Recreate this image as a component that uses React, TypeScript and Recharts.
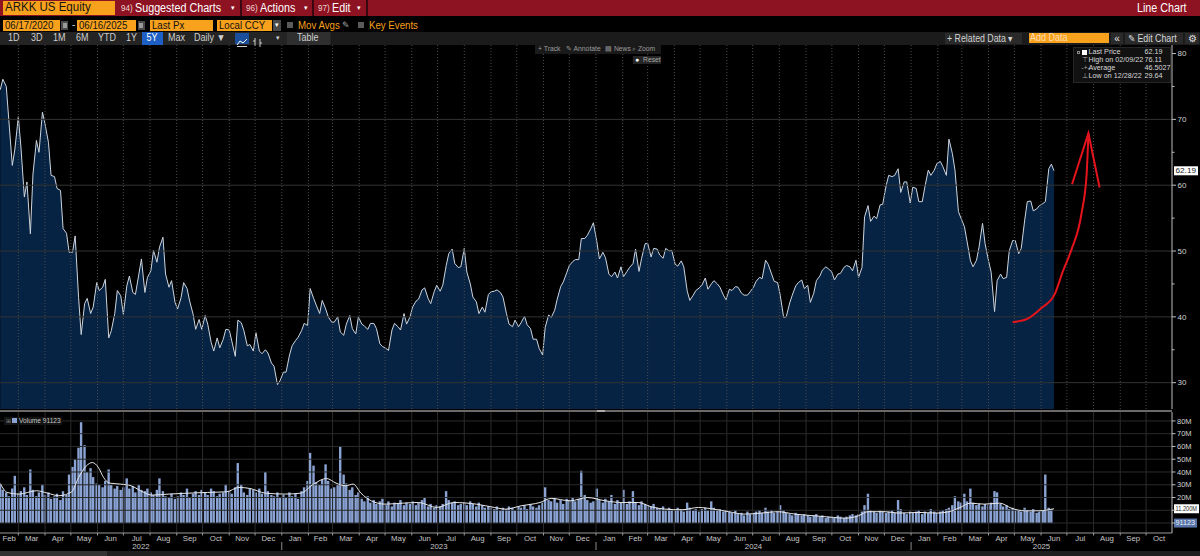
import React from 'react';
import { ComposedChart, Area, Line, Bar, XAxis, YAxis, ReferenceLine } from 'recharts';

const FONT = '"Liberation Sans", Arial, sans-serif';
const ORANGE = '#f8a11c';

// ---------- time helpers ----------
const DAY0 = Date.UTC(2022, 0, 1);
const MS_DAY = 86400000;
function dayNum(iso: string): number {
  const [y, m, d] = iso.split('-').map(Number);
  return Math.round((Date.UTC(y, m - 1, d) - DAY0) / MS_DAY);
}
const X_MIN = 37.7;
const X_MAX = 1399.1;

// ---------- data ----------
// closes sampled every Tuesday and Friday, starting Tue 2022-02-08
const SAMPLE_START = '2022-02-08';
const LAST_DATE = '2025-06-16';
const LAST_PRICE = 62.19;
const LAST_VOLUME = 0.091123; // millions

const price2022 = [
  74.5, 76.1, 75.0, 69.8, 63.0, 65.5,
  70.4, 65.8, 58.2, 60.5, 52.6, 61.7, 66.8, 65.0, 71.1,
  69.3, 66.5, 61.5, 61.3, 59.5, 59.2, 53.4, 52.7, 49.8,
  49.8, 52.3, 42.9, 37.3, 42.0, 42.8, 40.5, 41.5, 45.2,
  44.0, 44.5, 45.7, 36.8, 37.9, 40.5, 44.0, 43.2,
  40.4, 44.7, 46.2, 43.7, 43.4, 46.5, 48.8, 43.7, 46.0,
  47.0, 50.1, 48.3, 50.6, 52.1, 46.5, 44.5, 45.5, 42.2,
  41.2, 42.9, 45.2, 44.3, 42.4, 40.4, 38.1, 39.6, 38.1,
  40.2, 38.9, 36.1, 34.8, 36.8, 35.3, 36.6, 38.1,
  38.0, 36.3, 34.0, 39.5, 39.1, 37.9, 35.6, 35.8, 34.8,
  37.6, 34.8, 34.4, 35.0, 34.5, 33.0, 32.5, 29.7, 30.3,
];
const price2023 = [
  31.6, 31.6, 34.2, 35.6, 36.4, 36.9, 37.9, 39.0, 38.7,
  44.3, 42.8, 41.8, 40.5, 42.5, 41.2, 40.0, 39.2,
  39.2, 40.0, 37.7, 37.2, 38.9, 40.2, 38.2, 37.4, 40.0,
  38.9, 38.6, 38.1, 39.0, 39.0, 38.2, 35.9, 35.5,
  35.2, 34.9, 38.0, 39.0, 38.5, 38.0, 40.5, 38.9, 40.0,
  41.5, 42.4, 42.7, 44.1, 44.4, 42.8, 42.0, 43.8, 44.8,
  43.9, 44.8, 47.8, 49.6, 50.3, 48.1, 47.5, 47.6,
  50.4, 46.8, 45.0, 43.0, 42.3, 40.5, 41.5, 40.7, 43.4,
  43.8, 43.9, 44.1, 43.7, 43.0, 40.5, 38.9, 38.5, 39.5,
  38.5, 39.1, 40.1, 38.8, 38.2, 36.6, 36.6, 35.2, 34.2,
  38.4, 40.3, 39.9, 41.0, 42.7, 44.6, 45.3, 46.7,
  47.8, 48.4, 48.7, 48.7, 51.9, 51.9, 52.4, 53.4, 54.3,
];
const price2024 = [
  51.4, 48.8, 49.8, 49.0, 46.5, 46.1, 46.8, 45.9, 47.6,
  46.1, 46.9, 47.5, 48.1, 50.3, 46.9, 48.9, 51.1,
  51.2, 49.1, 50.4, 50.3, 49.4, 48.9, 50.4, 50.0, 50.1,
  48.0, 47.7, 48.5, 47.6, 43.9, 42.5, 43.3, 44.0, 44.4,
  44.8, 45.9, 44.2, 45.0, 45.5, 45.0, 44.5, 43.3, 42.6,
  44.2, 44.0, 44.6, 44.5, 43.6, 43.3, 43.3, 43.8,
  44.5, 45.4, 46.0, 45.8, 48.6, 48.0, 46.5, 45.4, 45.2,
  43.3, 39.9, 40.0, 42.1, 43.3, 44.7, 45.2, 45.6, 44.3,
  44.8, 42.2, 43.6, 45.5, 46.2, 47.1, 47.6, 47.3,
  46.8, 45.6, 46.5, 46.6, 47.5, 47.8, 47.6, 47.0, 48.6,
  46.0, 47.5, 55.2, 56.9, 54.5, 55.3, 54.9, 57.0, 57.1,
  59.9, 61.5, 61.3, 61.5, 62.5, 58.9, 60.5, 60.5, 57.3,
];
const price2025 = [
  59.7, 59.5, 57.5, 57.5, 59.7, 62.3, 61.5, 62.3, 63.3,
  63.6, 62.8, 61.5, 67.0, 64.8, 62.3, 56.0, 55.0,
  53.7, 51.5, 48.5, 47.6, 48.6, 50.6, 54.2, 51.1,
  48.5, 46.8, 40.8, 45.5, 46.5, 45.8, 46.0, 50.0, 51.6,
  51.6, 49.6, 50.4, 54.7, 57.5, 57.6, 56.1, 56.4, 56.9,
  57.2, 57.5, 62.5, 63.2,
];

// volume in millions, same sampling dates
const volume2022 = [
  30, 26, 24, 21, 27, 37,
  23, 25, 28, 22, 42, 26, 21, 24, 30,
  22, 24, 19, 21, 23, 18, 25, 22, 38,
  44, 50, 59, 79, 61, 40, 43, 36, 31,
  30, 28, 33, 42, 30, 27, 29, 26,
  28, 35, 27, 29, 24, 30, 26, 25, 27,
  24, 22, 26, 35, 25, 21, 20, 23, 19,
  21, 24, 22, 27, 20, 23, 25, 22, 26,
  24, 22, 27, 25, 21, 23, 24, 30,
  25, 23, 28, 47, 30, 24, 22, 27, 26,
  24, 27, 23, 40, 25, 22, 21, 24, 20,
];
const volume2023 = [
  22, 20, 24, 21, 23, 19, 25, 28, 33,
  55, 45, 32, 30, 34, 46, 33, 27,
  28, 30, 60, 38, 31, 26, 28, 22, 24,
  19, 17, 21, 16, 18, 15, 17, 19,
  14, 17, 13, 16, 15, 18, 14, 16, 15,
  17, 14, 16, 18, 20, 13, 15, 12, 14,
  13, 15, 25, 18, 16, 17, 14, 15,
  16, 14, 17, 15, 13, 16, 14, 12, 13,
  12, 11, 13, 10, 12, 11, 13, 12, 10,
  13, 12, 14, 11, 15, 13, 12, 14, 16,
  28, 18, 17, 20, 16, 18, 15, 19,
  18, 20, 17, 19, 41, 22, 18, 16, 17,
];
const volume2024 = [
  27, 18, 16, 19, 17, 22, 15, 18, 16,
  26, 15, 17, 25, 16, 14, 17, 15,
  14, 13, 15, 12, 11, 13, 10, 12, 11,
  10, 12, 11, 9, 16, 12, 10, 11, 9,
  11, 12, 10, 17, 12, 10, 11, 9, 10,
  9, 8, 10, 7, 8, 6, 9, 7,
  8, 9, 10, 8, 12, 9, 10, 8, 9,
  14, 10, 8, 7, 6, 8, 7, 6, 7,
  6, 5, 6, 7, 5, 6, 4, 5,
  5, 4, 6, 5, 4, 5, 6, 7, 6,
  7, 9, 14, 23, 10, 9, 8, 10, 9,
  8, 9, 10, 8, 18, 11, 8, 7, 9,
];
const volume2025 = [
  8, 9, 10, 7, 9, 8, 11, 9, 8,
  9, 10, 11, 12, 14, 21, 17, 16,
  23, 17, 27, 16, 14, 15, 13, 15,
  14, 16, 25, 24, 15, 13, 14, 11, 12,
  11, 10, 9, 12, 10, 9, 11, 8, 9,
  10, 38, 12, 11,
];

// moving average of volume (white line), millions
const volMADates = [
  '2022-02-08', '2022-02-16', '2022-03-02', '2022-03-22', '2022-04-04', '2022-04-17', '2022-05-02',
  '2022-05-10', '2022-05-19', '2022-05-26', '2022-06-02', '2022-06-08', '2022-06-15', '2022-06-28',
  '2022-07-10', '2022-07-21', '2022-08-03', '2022-08-23', '2022-09-14', '2022-10-07', '2022-10-29',
  '2022-11-12', '2022-11-25', '2022-12-13', '2023-01-05', '2023-01-23', '2023-02-07', '2023-02-22',
  '2023-03-05', '2023-03-16', '2023-03-25', '2023-04-03', '2023-04-15', '2023-05-01', '2023-05-22',
  '2023-06-09', '2023-06-30', '2023-07-20', '2023-08-15', '2023-09-05', '2023-09-18', '2023-10-06',
  '2023-10-28', '2023-11-10', '2023-12-02', '2023-12-22', '2024-01-12', '2024-01-31', '2024-02-19',
  '2024-03-05', '2024-03-21', '2024-04-10', '2024-04-29', '2024-05-17', '2024-06-03', '2024-06-21',
  '2024-07-11', '2024-07-30', '2024-08-19', '2024-09-10', '2024-10-03', '2024-10-17', '2024-11-01',
  '2024-11-12', '2024-12-02', '2024-12-17', '2025-01-10', '2025-01-31', '2025-02-14', '2025-02-27',
  '2025-03-11', '2025-03-27', '2025-04-14', '2025-04-28', '2025-05-13', '2025-05-29', '2025-06-16',
];
const volMAValues = [
  31, 24, 22.7, 25.3, 23.4, 21.4, 24.5,
  35.7, 44.8, 47.4, 43.5, 35.7, 31.3, 30.5,
  29.2, 25.3, 21.9, 22.7, 23.4, 24.0, 24.5,
  27.9, 27.1, 23.4, 22.7, 23.4, 30.5, 34.9,
  31.3, 29.2, 30.5, 23.4, 17.4, 14.8, 15.6,
  16.1, 12.2, 16.1, 14.8, 12.2, 10.9, 13.5,
  16.1, 19.3, 17.4, 20.0, 17.4, 16.1, 16.1,
  12.8, 10.9, 10.4, 12.2, 10.9, 8.9, 7.0,
  7.8, 8.9, 7.0, 5.7, 4.4, 3.8, 5.7,
  8.9, 8.9, 7.8, 8.3, 7.8, 8.9, 12.2,
  15.6, 14.8, 15.6, 11.5, 9.6, 9.6, 11.2,
];

// hand-drawn red arrow (annotation)
const arrowCurveDates = ['2025-04-29', '2025-05-16', '2025-06-01', '2025-06-17', '2025-06-26', '2025-07-06', '2025-07-18', '2025-07-24', '2025-07-25', '2025-07-26'];
const arrowCurveValues = [39.2, 39.7, 41.3, 43.5, 46.8, 50.1, 55.7, 61.8, 64.5, 67.9];
const arrowHeadDates = ['2025-07-07', '2025-07-26', '2025-08-08'];
const arrowHeadValues = [60.15, 67.9, 59.65];

// axis ticks / labels
const priceTicks = [30, 35, 40, 45, 50, 55, 60, 65, 70, 75, 80];
const priceGrid = [30, 40, 50, 60, 70];
const volTicks = [0, 10, 20, 30, 40, 50, 60, 70, 80];
const volGrid = [0, 10, 20, 30, 40, 50, 60, 70, 80];
const MONTH_NAMES = ['Jan', 'Feb', 'Mar', 'Apr', 'May', 'Jun', 'Jul', 'Aug', 'Sep', 'Oct', 'Nov', 'Dec'];
const YEARS = [2022, 2023, 2024, 2025];

const legendRows = [
  { label: 'Last Price', value: '62.19', icon: 'sq' },
  { label: 'High on 02/09/22', value: '76.11', icon: 'hi' },
  { label: 'Average', value: '46.5027', icon: 'avg' },
  { label: 'Low on 12/28/22', value: '29.64', icon: 'lo' },
];

// ---------- build tables ----------
const allPrices = [...price2022, ...price2023, ...price2024, ...price2025];
const allVolumes = [...volume2022, ...volume2023, ...volume2024, ...volume2025];
const sampleDays: number[] = [];
{
  let d = dayNum(SAMPLE_START);
  for (let i = 0; i < allPrices.length; i++) {
    sampleDays.push(d);
    d += i % 2 === 0 ? 3 : 4;
  }
}
const priceData = sampleDays.map((d, i) => ({ d, p: allPrices[i] }));
priceData.push({ d: dayNum(LAST_DATE), p: LAST_PRICE });
const volumeData = sampleDays.map((d, i) => ({ d, v: allVolumes[i] }));
volumeData.push({ d: dayNum(LAST_DATE), v: LAST_VOLUME });
const volMAData = volMADates.map((s, i) => ({ d: dayNum(s), v: volMAValues[i] }));
const arrowCurve = arrowCurveDates.map((s, i) => ({ d: dayNum(s), p: arrowCurveValues[i] }));
const arrowHead = arrowHeadDates.map((s, i) => ({ d: dayNum(s), p: arrowHeadValues[i] }));

const pad = (n: number) => (n < 10 ? '0' + n : '' + n);
const monthStarts: number[] = [];
const yearStarts: number[] = [];
const tickMeta = new Map<number, { kind: string; label?: string; yearStart?: boolean }>();
for (const y of YEARS) {
  for (let m = 0; m < 12; m++) {
    const s = dayNum(`${y}-${pad(m + 1)}-01`);
    const e = m === 11 ? dayNum(`${y + 1}-01-01`) : dayNum(`${y}-${pad(m + 2)}-01`);
    if (e <= X_MIN || s >= X_MAX) continue;
    if (s >= X_MIN) {
      monthStarts.push(s);
      if (m === 0) yearStarts.push(s);
      tickMeta.set(s, { kind: 'start', yearStart: m === 0 });
    }
    const mid = (Math.max(s, X_MIN) + Math.min(e, X_MAX)) / 2 + 0.0001;
    tickMeta.set(mid, { kind: 'month', label: MONTH_NAMES[m] });
  }
  const ys = dayNum(`${y}-01-01`);
  const ye = dayNum(`${y + 1}-01-01`);
  const ymid = (Math.max(ys, X_MIN) + Math.min(ye, X_MAX)) / 2 + 0.0003;
  tickMeta.set(ymid, { kind: 'year', label: String(y) });
}
const dateTicks = Array.from(tickMeta.keys()).sort((a, b) => a - b);

// ---------- custom ticks / labels ----------
function PriceTick(props: any) {
  const { x, y, payload } = props;
  const v = payload.value;
  const major = v % 10 === 0;
  return (
    <g>
      <line x1={x} x2={x + (major ? 4 : 2.5)} y1={y} y2={y} stroke="#bdbdbd" strokeWidth={1} />
      {major && (
        <text x={x + 5.5} y={y} dy="0.35em" fontSize={8} fill="#d2d2d2" fontFamily={FONT}>
          {v}
        </text>
      )}
    </g>
  );
}
function VolTick(props: any) {
  const { x, y, payload } = props;
  const v = payload.value;
  return (
    <g>
      <line x1={x} x2={x + 3.5} y1={y} y2={y} stroke="#bdbdbd" strokeWidth={1} />
      {v >= 20 && (
        <text x={x + 5} y={y} dy="0.35em" fontSize={7.5} fill="#d2d2d2" fontFamily={FONT}>
          {v}M
        </text>
      )}
    </g>
  );
}
function DateTick(props: any) {
  const { x, y, payload } = props;
  const meta = tickMeta.get(payload.value);
  if (!meta) return <g />;
  if (meta.kind === 'start') {
    return (
      <g>
        <line x1={x} x2={x} y1={y} y2={y + 2.5} stroke="#9a9a9a" />
        {meta.yearStart && <line x1={x} x2={x} y1={y + 9} y2={y + 17} stroke="#8a8a8a" />}
      </g>
    );
  }
  if (meta.kind === 'month') {
    return (
      <text x={x} y={y + 5.5} dy="0.35em" textAnchor="middle" fontSize={7.8} fill="#c6c6c6" fontFamily={FONT}>
        {meta.label}
      </text>
    );
  }
  return (
    <text x={x} y={y + 13.3} dy="0.35em" textAnchor="middle" fontSize={7.8} fill="#c6c6c6" fontFamily={FONT}>
      {meta.label}
    </text>
  );
}
function valueBox(text: string, fill: string, color: string, w: number) {
  return (p: any) => {
    const vb = p.viewBox || {};
    const x = (vb.x || 0) + (vb.width || 0) + 2;
    const y = vb.y || 0;
    return (
      <g>
        <rect x={x} y={y - 4.5} width={w} height={9} fill={fill} />
        <text
          x={x + 1.5}
          y={y}
          dy="0.36em"
          fontSize={6.6}
          fill={color}
          fontFamily={FONT}
          textLength={w - 3.5}
          lengthAdjust="spacingAndGlyphs"
        >
          {text}
        </text>
      </g>
    );
  };
}

// ---------- header helpers ----------
const abs = (left: number, top: number, extra: React.CSSProperties = {}): React.CSSProperties => ({
  position: 'absolute',
  left,
  top,
  whiteSpace: 'nowrap',
  ...extra,
});
function Txt({ x, y, size, color, h, children, sx = 1 }: any) {
  return (
    <div
      style={abs(x, y, {
        fontSize: size,
        color,
        lineHeight: h + 'px',
        height: h,
        transform: `scaleX(${sx})`,
        transformOrigin: 'left center',
      })}
    >
      {children}
    </div>
  );
}
function BoxT({ x, y, w, h, bg, color, size, children, padL = 2, center = false, sx = 1 }: any) {
  return (
    <div
      style={abs(x, y, {
        width: w,
        height: h,
        background: bg,
        color,
        fontSize: size,
        lineHeight: h + 'px',
        paddingLeft: center ? 0 : padL,
        textAlign: center ? 'center' : 'left',
        boxSizing: 'border-box',
        overflow: 'hidden',
      })}
    >
      <span style={{ display: 'inline-block', transform: `scaleX(${sx})`, transformOrigin: center ? 'center' : 'left center' }}>
        {children}
      </span>
    </div>
  );
}

function Header() {
  const red = '#8d1222';
  const W = '#ffffff';
  return (
    <>
      {/* row 1 */}
      <div style={abs(0, 0, { width: 1200, height: 15.5, background: red })} />
      <BoxT x={3} y={1} w={112} h={13.5} bg={ORANGE} color="#141414" size={12.5} sx={0.92}>ARKK US Equity</BoxT>
      <Txt x={120.5} y={1} size={9} color="#f1d2d4" h={14} sx={0.9}>94)</Txt>
      <Txt x={135} y={0.5} size={12.5} color={W} h={15} sx={0.86}>Suggested Charts</Txt>
      <Txt x={231} y={1} size={7} color={W} h={14}>▾</Txt>
      <div style={abs(240, 0, { width: 1.5, height: 15.5, background: '#3a0610' })} />
      <Txt x={246} y={1} size={9} color="#f1d2d4" h={14} sx={0.9}>96)</Txt>
      <Txt x={260} y={0.5} size={12.5} color={W} h={15} sx={0.86}>Actions</Txt>
      <Txt x={303.5} y={1} size={7} color={W} h={14}>▾</Txt>
      <div style={abs(312, 0, { width: 1.5, height: 15.5, background: '#3a0610' })} />
      <Txt x={318} y={1} size={9} color="#f1d2d4" h={14} sx={0.9}>97)</Txt>
      <Txt x={332} y={0.5} size={12.5} color={W} h={15} sx={0.86}>Edit</Txt>
      <Txt x={357} y={1} size={7} color={W} h={14}>▾</Txt>
      <div style={abs(366, 0, { width: 1.5, height: 15.5, background: '#3a0610' })} />
      <Txt x={1137} y={0.5} size={12.5} color={W} h={15} sx={0.86}>Line Chart</Txt>

      {/* row 2 */}
      <BoxT x={3} y={20} w={57} h={10.5} bg={ORANGE} color="#111" size={10.5} sx={0.92}>06/17/2020</BoxT>
      <div style={abs(61, 20.5, { width: 7, height: 9.5, background: '#4a4a4a' })} />
      <div style={abs(62.5, 23, { width: 4, height: 5, background: '#9a9a9a' })} />
      <Txt x={72} y={20} size={10} color="#dddddd" h={10.5}>-</Txt>
      <BoxT x={77} y={20} w={59} h={10.5} bg={ORANGE} color="#111" size={10.5} sx={0.92}>06/16/2025</BoxT>
      <div style={abs(137.5, 20.5, { width: 7, height: 9.5, background: '#4a4a4a' })} />
      <div style={abs(139, 23, { width: 4, height: 5, background: '#9a9a9a' })} />
      <BoxT x={150} y={20} w={63} h={10.5} bg={ORANGE} color="#111" size={10.5} sx={0.92}>Last Px</BoxT>
      <BoxT x={217} y={20} w={55} h={10.5} bg={ORANGE} color="#111" size={10.5} sx={0.92}>Local CCY</BoxT>
      <BoxT x={272.5} y={20} w={8} h={10.5} bg="#4a4a4a" color="#fff" size={7} center>▾</BoxT>
      <div style={abs(287, 22, { width: 6, height: 6, background: '#5a5a5a' })} />
      <Txt x={297.5} y={19.5} size={11} color={ORANGE} h={11} sx={0.88}>Mov Avgs</Txt>
      <Txt x={342} y={19.5} size={8.5} color="#a8a8a8" h={11}>✎</Txt>
      <div style={abs(358, 22, { width: 6, height: 6, background: '#5a5a5a' })} />
      <Txt x={369} y={19.5} size={11} color={ORANGE} h={11} sx={0.88}>Key Events</Txt>

      {/* row 3 */}
      <div style={abs(0, 32, { width: 1200, height: 12.5, background: '#1b1b1b' })} />
      <div style={abs(0, 32, { width: 331, height: 12.5, background: '#242424' })} />
      <Txt x={8} y={32} size={10} color="#cfcfcf" h={12.5} sx={0.9}>1D</Txt>
      <Txt x={31} y={32} size={10} color="#cfcfcf" h={12.5} sx={0.9}>3D</Txt>
      <Txt x={53} y={32} size={10} color="#cfcfcf" h={12.5} sx={0.9}>1M</Txt>
      <Txt x={76} y={32} size={10} color="#cfcfcf" h={12.5} sx={0.9}>6M</Txt>
      <Txt x={98} y={32} size={10} color="#cfcfcf" h={12.5} sx={0.9}>YTD</Txt>
      <Txt x={126} y={32} size={10} color="#cfcfcf" h={12.5} sx={0.9}>1Y</Txt>
      <BoxT x={142} y={32} w={21} h={12.5} bg="#1d5fc4" color="#ffffff" size={10} center sx={0.9}>5Y</BoxT>
      <Txt x={168} y={32} size={10} color="#cfcfcf" h={12.5} sx={0.9}>Max</Txt>
      <Txt x={194} y={32} size={10} color="#cfcfcf" h={12.5} sx={0.9}>Daily ▼</Txt>
      <div style={abs(235, 33, { width: 14, height: 10.5, background: '#1b4f9c' })}>
        <svg width={14} height={10.5}>
          <polyline points="2,8 5,4 8,6 12,2" fill="none" stroke="#ffffff" strokeWidth={1} />
          <line x1={2} x2={12} y1={9.5} y2={9.5} stroke="#ffffff" strokeWidth={0.8} />
        </svg>
      </div>
      <div style={abs(252, 33, { width: 11, height: 10.5 })}>
        <svg width={11} height={10.5}>
          <line x1={3} x2={3} y1={1} y2={9} stroke="#cfcfcf" />
          <line x1={1} x2={3} y1={4} y2={4} stroke="#cfcfcf" />
          <line x1={8} x2={8} y1={2} y2={10} stroke="#cfcfcf" />
          <line x1={8} x2={10} y1={6} y2={6} stroke="#cfcfcf" />
        </svg>
      </div>
      <Txt x={276} y={32} size={7} color="#cfcfcf" h={12.5}>▾</Txt>
      <BoxT x={287} y={32} w={43} h={12.5} bg="#2f2f2f" color="#cfcfcf" size={10} padL={10} sx={0.9}>Table</BoxT>

      <BoxT x={945} y={32.5} w={77} h={11} bg="#2a2a2a" color="#d2d2d2" size={10} padL={2} sx={0.88}>+ Related Data ▾</BoxT>
      <BoxT x={1029} y={32.5} w={80} h={10.5} bg={ORANGE} color="#ffdcb0" size={10} padL={1} sx={0.9}>Add Data</BoxT>
      <BoxT x={1111} y={32.5} w={12} h={11} bg="#2a2a2a" color="#e0e0e0" size={10} center>«</BoxT>
      <BoxT x={1125} y={32.5} w={58} h={11} bg="#2a2a2a" color="#d8d8d8" size={10} padL={3} sx={0.88}>✎ Edit Chart</BoxT>
      <BoxT x={1185} y={32.5} w={14} h={11} bg="#2a2a2a" color="#e0e0e0" size={10} center>⚙</BoxT>
    </>
  );
}

function Overlays() {
  return (
    <>
      {/* chart toolbar */}
      <div style={abs(535, 44, { width: 126, height: 9.5, background: '#1a1a1a', fontSize: 6.8, color: '#9c9c9c', lineHeight: '9.5px' })}>
        <span style={abs(3, 0)}>+ Track</span>
        <span style={abs(31, 0)}>✎ Annotate</span>
        <span style={abs(70, 0)}>▤ News</span>
        <span style={abs(97, 0)}>⌕ Zoom</span>
      </div>
      <div style={abs(633, 55.5, { width: 28, height: 8, background: '#262626', fontSize: 6.8, color: '#a8a8a8', lineHeight: '8px' })}>
        <span style={abs(2, 0, { color: '#ffffff' })}>●</span>
        <span style={abs(10, 0)}>Reset</span>
      </div>

      {/* legend box */}
      <div style={abs(1073, 46.5, { width: 98, height: 36, background: '#111111', border: '1px solid #262626', boxSizing: 'border-box' })} />
      {legendRows.map((r, i) => {
        const top = 49 + i * 7.8;
        return (
          <React.Fragment key={r.label}>
            {r.icon === 'sq' ? (
              <>
                <div style={abs(1076.5, top + 1.5, { width: 3.5, height: 3.5, border: '0.8px solid #888', boxSizing: 'border-box' })} />
                <div style={abs(1081.5, top + 0.8, { width: 5, height: 5, background: '#ffffff' })} />
              </>
            ) : (
              <div style={abs(1081.5, top - 0.5, { fontSize: 6.5, color: '#aaaaaa', lineHeight: '8px' })}>
                {r.icon === 'hi' ? '⊤' : r.icon === 'lo' ? '⊥' : '-+-'}
              </div>
            )}
            <div style={abs(1088.5, top - 0.6, { fontSize: 7.2, color: '#d8d8d8', lineHeight: '8px' })}>{r.label}</div>
            <div style={abs(1144.5, top - 0.6, { fontSize: 7.2, color: '#d8d8d8', lineHeight: '8px' })}>{r.value}</div>
          </React.Fragment>
        );
      })}

      {/* panel separator */}
      <div style={abs(0, 409.5, { width: 1172, height: 2, background: '#6a6a6a' })} />
      <div style={abs(597, 409.5, { width: 8, height: 2, background: '#a9a9a9' })} />

      {/* volume legend */}
      <div style={abs(3.5, 416.5, { width: 58, height: 8.5, background: '#141414', fontSize: 6.6, color: '#c4c4c4', lineHeight: '8.5px' })}>
        <span style={abs(2, 0, { color: '#888', fontSize: 6 })}>⊞</span>
        <span style={abs(8.5, 1.8, { width: 5, height: 5, background: '#8aa3d3' })} />
        <span style={abs(15.5, 0)}>Volume 91123</span>
      </div>

      {/* bottom strip */}
      <div style={abs(0, 551, { width: 1200, height: 5, background: '#1f1f1f' })} />
      <div style={abs(0, 551, { width: 107, height: 5, background: '#333333' })} />
    </>
  );
}

export default function App() {
  return (
    <div
      style={{
        position: 'fixed',
        left: 0,
        top: 0,
        width: 1200,
        height: 556,
        background: '#000',
        overflow: 'hidden',
        fontFamily: FONT,
      }}
    >
      <Header />

      {/* price panel */}
      <div style={abs(0, 45)}>
        <ComposedChart width={1200} height={364} data={priceData} margin={{ top: 0, right: 0, bottom: 0, left: 0 }}>
          <XAxis type="number" dataKey="d" domain={[X_MIN, X_MAX]} allowDataOverflow hide />
          <YAxis
            orientation="right"
            width={28}
            type="number"
            domain={[26, 81.3]}
            allowDataOverflow
            ticks={priceTicks}
            interval={0}
            tickLine={false}
            tickSize={0}
            tickMargin={0}
            axisLine={{ stroke: '#bdbdbd' }}
            tick={(p: any) => <PriceTick {...p} />}
          />
          {priceGrid.map((v) => (
            <ReferenceLine key={'ph' + v} y={v} stroke="#333333" strokeWidth={1} />
          ))}
          {monthStarts.map((d) => (
            <ReferenceLine key={'pv' + d} x={d} stroke="#4c4c4c" strokeWidth={1} strokeDasharray="1 2" />
          ))}
          <Area
            type="linear"
            dataKey="p"
            stroke="#cdd5df"
            strokeWidth={1}
            fill="#0c3a70"
            fillOpacity={0.6}
            dot={false}
            activeDot={false}
            isAnimationActive={false}
          />
          <Line data={arrowCurve} dataKey="p" type="monotone" stroke="#e5141c" strokeWidth={2} dot={false} activeDot={false} isAnimationActive={false} />
          <Line data={arrowHead} dataKey="p" type="linear" stroke="#e5141c" strokeWidth={2} dot={false} activeDot={false} isAnimationActive={false} />
          <ReferenceLine y={LAST_PRICE} stroke="none" label={valueBox('62.19', '#ffffff', '#222222', 24)} />
        </ComposedChart>
      </div>

      {/* volume panel */}
      <div style={abs(0, 412)}>
        <ComposedChart width={1200} height={141} data={volumeData} margin={{ top: 0, right: 0, bottom: 0, left: 0 }}>
          <XAxis
            type="number"
            dataKey="d"
            domain={[X_MIN, X_MAX]}
            allowDataOverflow
            height={20}
            ticks={dateTicks}
            interval={0}
            tickLine={false}
            tickSize={0}
            tickMargin={0}
            axisLine={{ stroke: '#9a9a9a' }}
            tick={(p: any) => <DateTick {...p} />}
          />
          <XAxis
            xAxisId="bars"
            type="number"
            dataKey="d"
            domain={[X_MIN, X_MAX]}
            allowDataOverflow
            ticks={yearStarts}
            hide
          />
          <YAxis
            orientation="right"
            width={28}
            type="number"
            domain={[-7.8, 87]}
            allowDataOverflow
            ticks={volTicks}
            interval={0}
            tickLine={false}
            tickSize={0}
            tickMargin={0}
            axisLine={{ stroke: '#bdbdbd' }}
            tick={(p: any) => <VolTick {...p} />}
          />
          {volGrid.map((v) => (
            <ReferenceLine key={'vh' + v} y={v} stroke="#2b2b2b" strokeWidth={1} />
          ))}
          {monthStarts.map((d) => (
            <ReferenceLine key={'vv' + d} x={d} stroke="#2b2b2b" strokeWidth={1} />
          ))}
          <Bar xAxisId="bars" dataKey="v" fill="#8aa3d3" barSize={2.4} isAnimationActive={false} />
          <Line data={volMAData} dataKey="v" type="monotone" stroke="#e8e8e8" strokeWidth={1} dot={false} activeDot={false} isAnimationActive={false} />
          <ReferenceLine y={11.2} stroke="none" label={valueBox('11.200M', '#ffffff', '#222222', 25)} />
          <ReferenceLine y={0} stroke="none" label={valueBox('91123', '#5874a8', '#e8eefa', 23)} />
        </ComposedChart>
      </div>

      <Overlays />
    </div>
  );
}
